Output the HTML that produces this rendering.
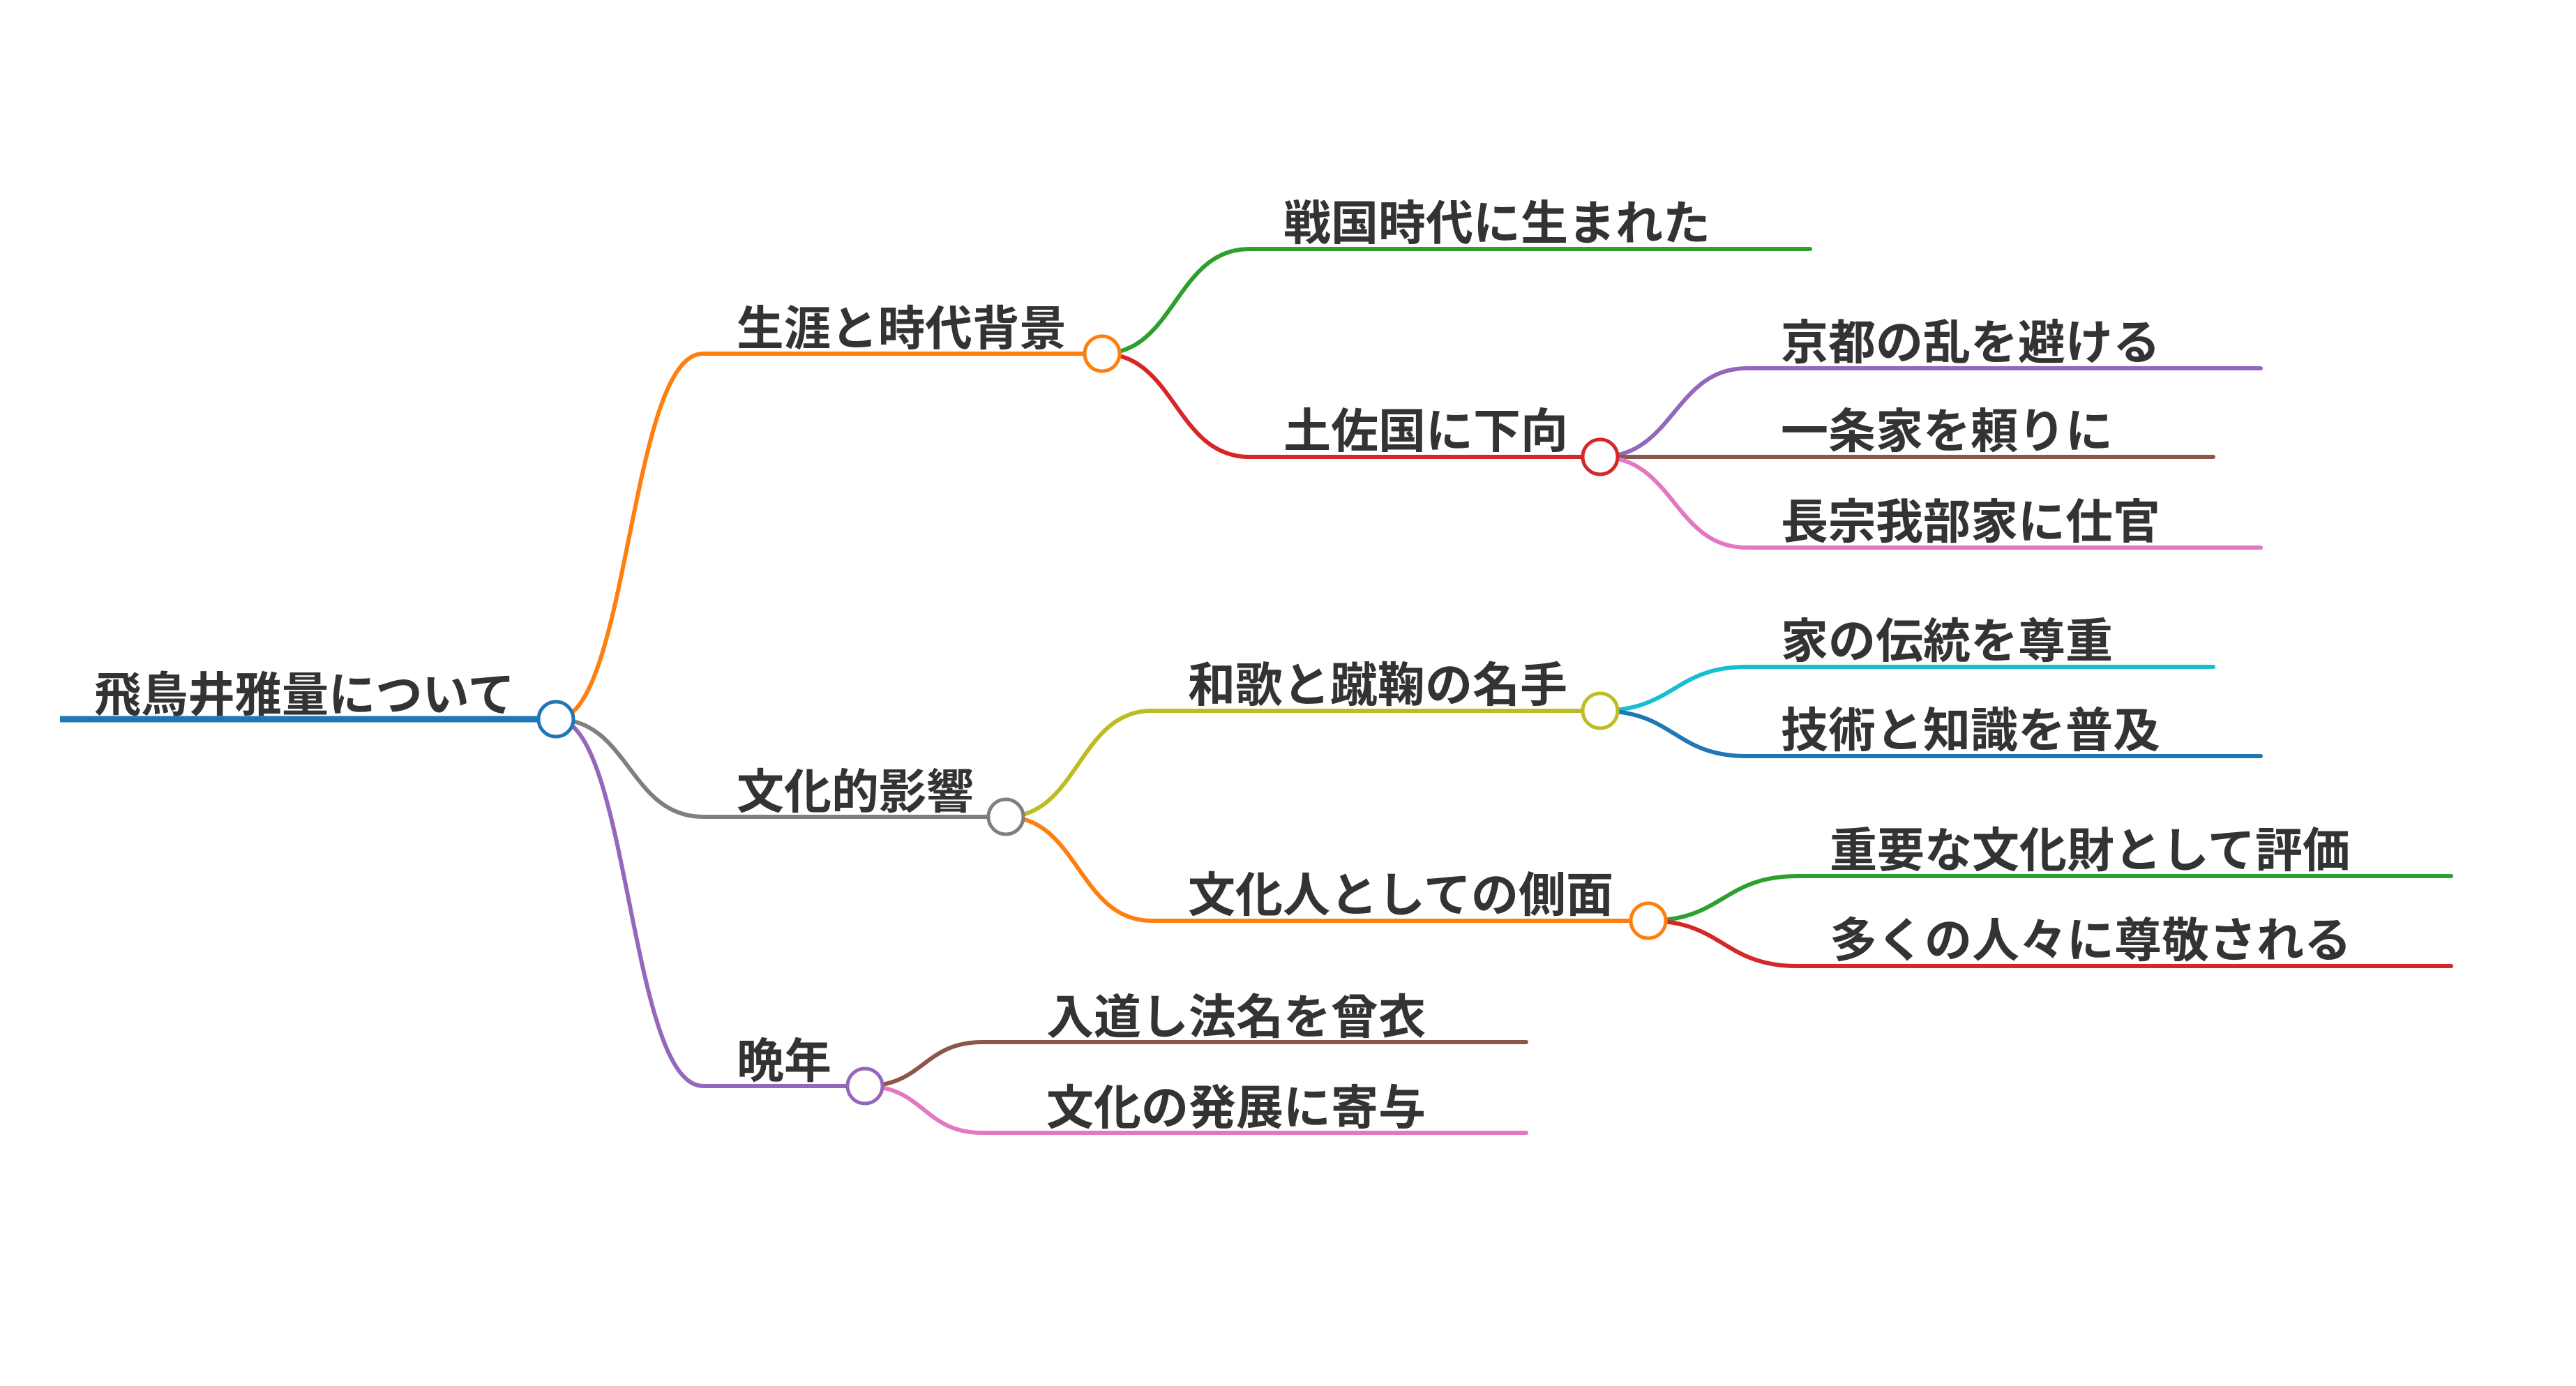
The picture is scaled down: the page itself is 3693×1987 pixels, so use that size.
<!DOCTYPE html>
<html><head><meta charset="utf-8"><style>
html,body{margin:0;padding:0;background:#fff;}
svg{display:block;}
text{font-family:"Liberation Sans","Noto Sans CJK JP",sans-serif;font-weight:bold;font-size:68px;fill:#333;}
</style></head><body>
<svg width="3693" height="1987" viewBox="0 0 3693 1987" xmlns="http://www.w3.org/2000/svg">
<g fill="none" stroke-width="6" stroke-linecap="round">
<path d="M86 1031 H797" stroke="#1f77b4" stroke-width="9" stroke-linecap="butt"/>
<path d="M797 1031 C902 1031,902 507,1008 507 H1580" stroke="#ff7f0e"/>
<path d="M797 1031 C902 1031,902 1171,1008 1171 H1442" stroke="#7f7f7f"/>
<path d="M797 1031 C902 1031,902 1557,1008 1557 H1240" stroke="#9467bd"/>
<path d="M1580 507 C1685 507,1685 357,1791 357 H2595" stroke="#2ca02c"/>
<path d="M1580 507 C1685 507,1685 655,1791 655 H2294" stroke="#d62728"/>
<path d="M2294 655 C2400 655,2400 528,2504 528 H3241" stroke="#9467bd"/>
<path d="M2294 655 H3173" stroke="#8c564b"/>
<path d="M2294 655 C2400 655,2400 785,2504 785 H3241" stroke="#e377c2"/>
<path d="M1442 1171 C1546 1171,1546 1019,1651 1019 H2294" stroke="#bcbd22"/>
<path d="M1442 1171 C1546 1171,1546 1320,1651 1320 H2363" stroke="#ff7f0e"/>
<path d="M2294 1019 C2400 1019,2400 956,2504 956 H3173" stroke="#17becf"/>
<path d="M2294 1019 C2400 1019,2400 1084,2504 1084 H3241" stroke="#1f77b4"/>
<path d="M2363 1320 C2470 1320,2470 1256,2577 1256 H3514" stroke="#2ca02c"/>
<path d="M2363 1320 C2470 1320,2470 1385,2577 1385 H3514" stroke="#d62728"/>
<path d="M1240 1557 C1324 1557,1324 1494,1408 1494 H2188" stroke="#8c564b"/>
<path d="M1240 1557 C1324 1557,1324 1624,1408 1624 H2188" stroke="#e377c2"/>
</g>
<g fill="#fff" stroke-width="5">
<circle cx="797" cy="1031" r="25" stroke="#1f77b4"/>
<circle cx="1580" cy="507" r="25" stroke="#ff7f0e"/>
<circle cx="2294" cy="655" r="25" stroke="#d62728"/>
<circle cx="1442" cy="1171" r="25" stroke="#7f7f7f"/>
<circle cx="2294" cy="1019" r="25" stroke="#bcbd22"/>
<circle cx="2363" cy="1320" r="25" stroke="#ff7f0e"/>
<circle cx="1240" cy="1557" r="25" stroke="#9467bd"/>
</g>
<text x="135" y="1020" textLength="603" lengthAdjust="spacingAndGlyphs">飛鳥井雅量について</text>
<text x="1056" y="495" textLength="473" lengthAdjust="spacingAndGlyphs">生涯と時代背景</text>
<text x="1056" y="1159">文化的影響</text>
<text x="1056" y="1545">晩年</text>
<text x="1840" y="344">戦国時代に生まれた</text>
<text x="1840" y="642">土佐国に下向</text>
<text x="2553" y="515">京都の乱を避ける</text>
<text x="2553" y="642">一条家を頼りに</text>
<text x="2553" y="772">長宗我部家に仕官</text>
<text x="1703" y="1006">和歌と蹴鞠の名手</text>
<text x="1703" y="1307">文化人としての側面</text>
<text x="2553" y="943">家の伝統を尊重</text>
<text x="2553" y="1071">技術と知識を普及</text>
<text x="2623" y="1243">重要な文化財として評価</text>
<text x="2623" y="1372">多くの人々に尊敬される</text>
<text x="1500" y="1482">入道し法名を曾衣</text>
<text x="1500" y="1612">文化の発展に寄与</text>
</svg>
</body></html>
